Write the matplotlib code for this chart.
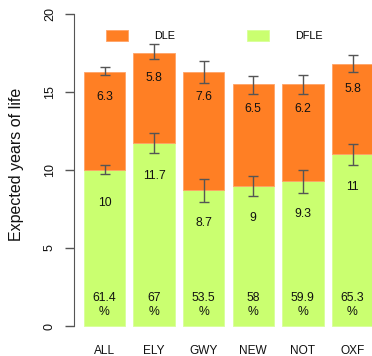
import matplotlib

matplotlib.use("Agg")
import matplotlib.pyplot as plt
from matplotlib.patches import Patch
import numpy as np

plt.rcParams["font.family"] = ["Liberation Sans", "DejaVu Sans"]

# Expected years of life by site, split into disability-free (DFLE)
# and with disability (DLE), with confidence intervals.
sites = ["ALL", "ELY", "GWY", "NEW", "NOT", "OXF"]
dfle = [10, 11.7, 8.7, 9, 9.3, 11]
dle = [6.3, 5.8, 7.6, 6.5, 6.2, 5.8]
dfle_pct = [61.4, 67, 53.5, 58, 59.9, 65.3]
dfle_lo = [9.75, 11.1, 7.95, 8.35, 8.55, 10.3]
dfle_hi = [10.3, 12.4, 9.45, 9.6, 10.0, 11.65]
total_lo = [16.1, 17.1, 15.6, 14.9, 14.9, 16.3]
total_hi = [16.6, 18.1, 17.0, 16.0, 16.1, 17.35]

ORANGE = "#FF7F24"
GREEN = "#CAFF70"
GREY = "#555555"
TEXT = "#111111"

x = np.arange(len(sites))
totals = np.array(dfle) + np.array(dle)

fig = plt.figure(figsize=(3.72, 3.56), dpi=100)
ax = fig.add_axes([74 / 372, 17.5 / 356, 1 - 74 / 372, 337 / 356])

width = 1 / 1.2
ax.bar(x, dfle, width=width, color=GREEN, edgecolor="#D8FF98", linewidth=0.6)
ax.bar(x, dle, width=width, bottom=dfle, color=ORANGE, edgecolor="#FFA366",
       linewidth=0.6)

for lo, hi in ((dfle_lo, dfle_hi), (total_lo, total_hi)):
    mid = (np.array(lo) + np.array(hi)) / 2
    half = (np.array(hi) - np.array(lo)) / 2
    ax.errorbar(x, mid, yerr=half, fmt="none", ecolor=GREY, elinewidth=1.0,
                capsize=3.5, capthick=1.0)

for i in range(len(sites)):
    ax.text(x[i], totals[i] - 1.6, f"{dle[i]:g}", ha="center", va="center",
            fontsize=8.8, color=TEXT)
    ax.text(x[i], dfle[i] - 2.1, f"{dfle[i]:g}", ha="center", va="center",
            fontsize=8.8, color=TEXT)
    ax.text(x[i], 1.35, f"{dfle_pct[i]:g}\n%", ha="center", va="center",
            fontsize=8.8, color=TEXT, linespacing=1.3)

ax.set_xlim(-0.615, (372 - 104.5) / 49.6)
ax.set_ylim(-0.8, 20.8)
ax.set_xticks(x, sites)
ax.set_yticks([0, 5, 10, 15, 20])
ax.tick_params(axis="x", length=0, pad=5, labelsize=8.6, labelcolor=TEXT)
ax.tick_params(axis="y", length=6.5, width=1, color=GREY, pad=6.5,
               labelsize=9, labelcolor=TEXT)
for lab in ax.get_yticklabels():
    lab.set_rotation(90)
    lab.set_va("center")

for side in ("top", "right", "bottom"):
    ax.spines[side].set_visible(False)
ax.spines["left"].set_bounds(0, 20)
ax.spines["left"].set_color(GREY)

fig.text(17 / 372, 1 - 164 / 356, "Expected years of life", rotation=90,
         ha="center", va="center", fontsize=11.5, color=TEXT)

handles = [Patch(facecolor=ORANGE, edgecolor="#FFA366", linewidth=0.6),
           Patch(facecolor=GREEN, edgecolor="#D8FF98", linewidth=0.6)]
ax.legend(handles, ["DLE", "DFLE"], ncol=2, frameon=False, fontsize=7.8,
          loc="upper left", bbox_to_anchor=(106 / 372, 1 - 30 / 356),
          bbox_transform=fig.transFigure, borderpad=0, borderaxespad=0,
          handlelength=2.0, handleheight=1.15, handletextpad=2.4,
          columnspacing=6.7)

fig.savefig("out.png", dpi=100)
